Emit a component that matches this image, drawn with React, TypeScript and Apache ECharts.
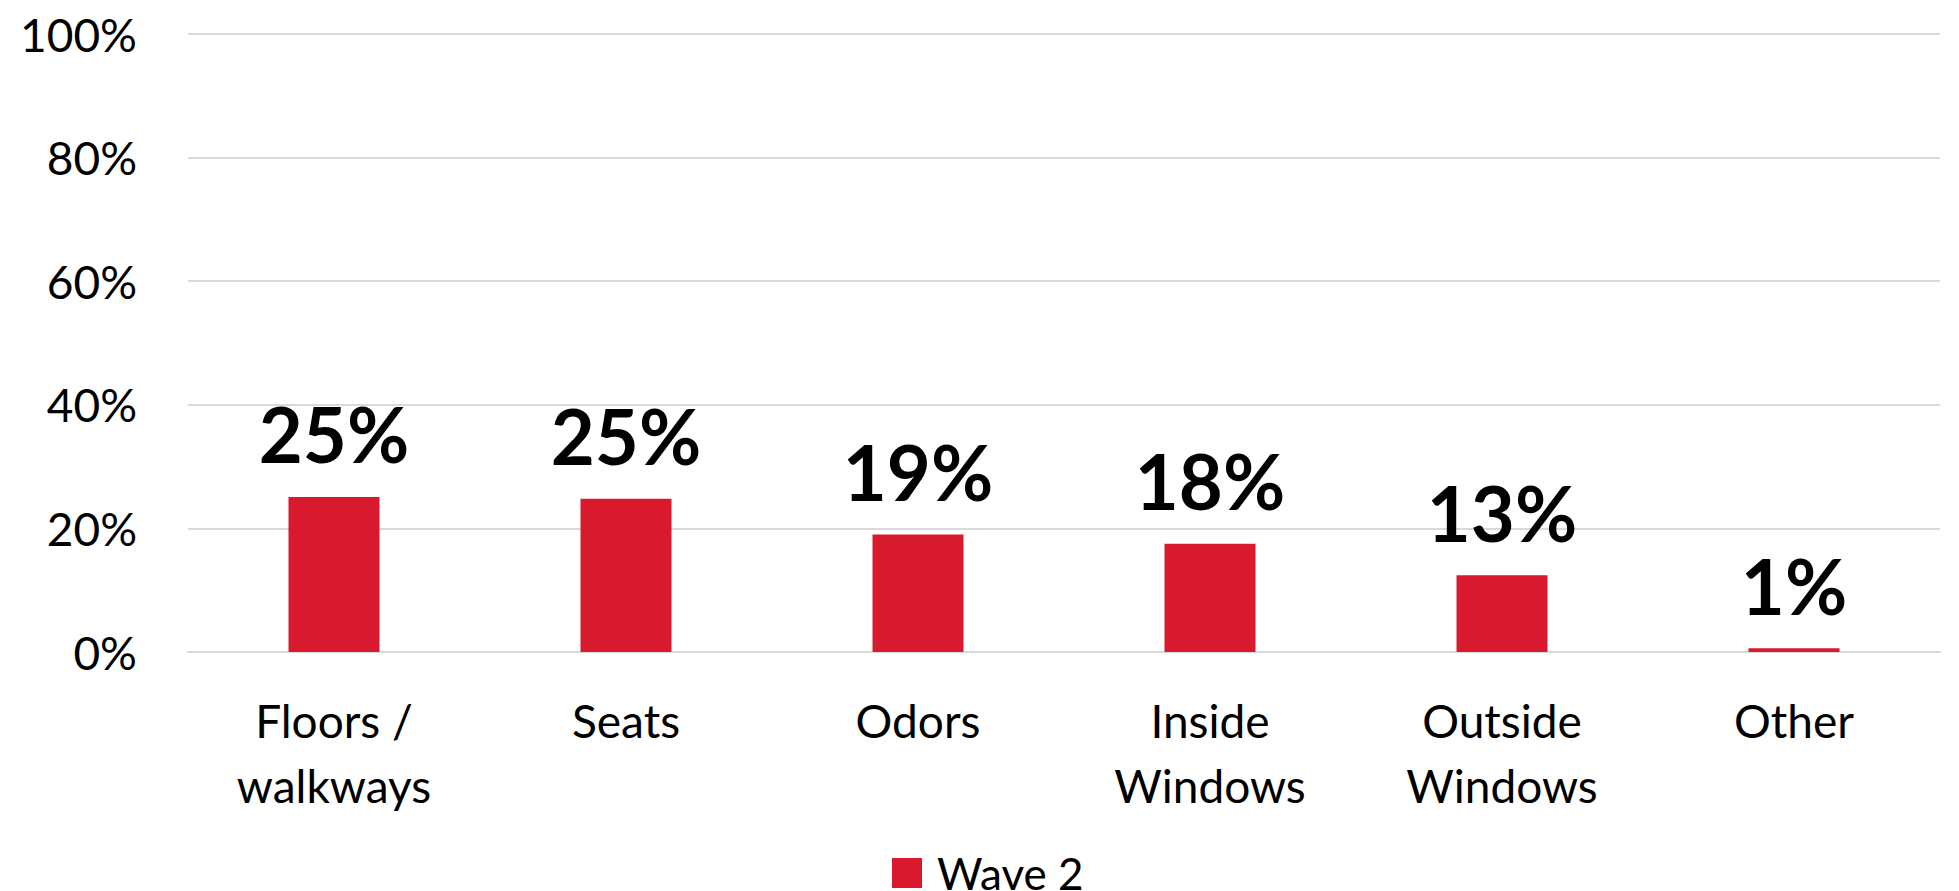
import React, { useEffect, useRef } from "react";
import * as echarts from "echarts";

const categories = ["Floors /\nwalkways", "Seats", "Odors", "Inside\nWindows", "Outside\nWindows", "Other"];
const wave2Values = [25.1, 24.8, 19.0, 17.5, 12.4, 0.6];
const wave2Labels = ["25%", "25%", "19%", "18%", "13%", "1%"];
const seriesName = "Wave 2";

const FONT = "Lato, 'Noto Sans', sans-serif";
const RED = "#D8192E";

export default function App() {
  const ref = useRef<HTMLDivElement>(null);
  useEffect(() => {
    if (!ref.current) return;
    const chart = echarts.init(ref.current, undefined, { renderer: "svg" });
    chart.setOption({
      animation: false,
      backgroundColor: "#ffffff",
      grid: { left: 188, right: 19, top: 34, bottom: 239, containLabel: false },
      legend: {
        data: [seriesName],
        left: 892,
        top: 851,
        padding: 0,
        itemWidth: 30,
        itemHeight: 30,
        icon: "rect",
        textStyle: {
          fontFamily: FONT,
          fontSize: 44,
          height: 34,
          lineHeight: 34,
          color: "#000",
          padding: [0, 0, 0, 10],
        },
      },
      xAxis: {
        type: "category",
        data: categories,
        axisLine: { show: true, lineStyle: { color: "#D9D9D9", width: 2 } },
        axisTick: { show: false },
        axisLabel: {
          interval: 0,
          margin: 36,
          fontFamily: FONT,
          fontSize: 46,
          lineHeight: 65,
          color: "#000",
        },
      },
      yAxis: {
        type: "value",
        min: 0,
        max: 100,
        interval: 20,
        axisLine: { show: false },
        axisTick: { show: false },
        splitLine: { lineStyle: { color: "#D9D9D9", width: 2 } },
        axisLabel: {
          formatter: "{value}%",
          margin: 51,
          fontFamily: FONT,
          fontSize: 46,
          color: "#000",
        },
      },
      series: [
        {
          name: seriesName,
          type: "bar",
          data: wave2Values,
          barWidth: 91,
          itemStyle: { color: RED },
          label: {
            show: true,
            position: "top",
            distance: 25,
            formatter: (p: any) => wave2Labels[p.dataIndex],
            fontFamily: FONT,
            fontWeight: "bold",
            fontSize: 76,
            color: "#000",
          },
        },
      ],
    });
    return () => chart.dispose();
  }, []);
  return (
    <div
      ref={ref}
      style={{ position: "fixed", left: 0, top: 0, width: 1959, height: 891, background: "#fff" }}
    />
  );
}
